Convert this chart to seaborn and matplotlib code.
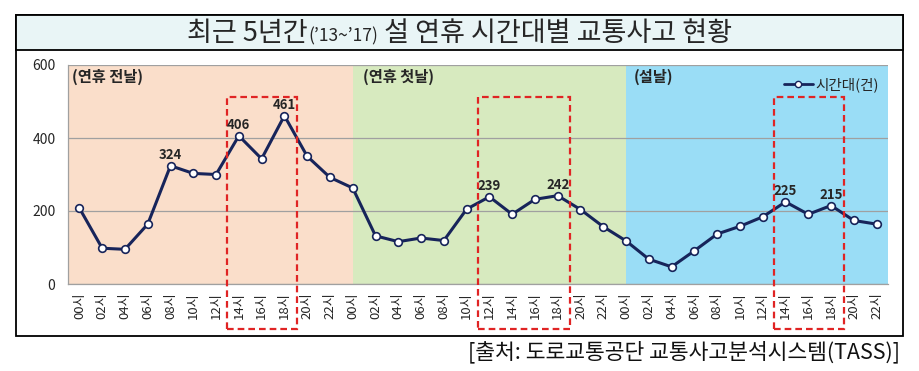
import numpy as np
import pandas as pd
import matplotlib
matplotlib.use("Agg")
import matplotlib.pyplot as plt
import matplotlib.transforms as mtransforms
from matplotlib.patches import Rectangle
from matplotlib.lines import Line2D
import seaborn as sns

# ---------------- data ----------------
hour_labels = ["00시", "02시", "04시", "06시", "08시", "10시",
               "12시", "14시", "16시", "18시", "20시", "22시"]
eve_values = [208, 98, 95, 164, 324, 303, 300, 406, 343, 461, 350, 292]
first_day_values = [263, 132, 116, 126, 119, 205, 239, 191, 232, 242, 204, 157]
seollal_values = [118, 68, 47, 91, 137, 158, 184, 225, 191, 215, 174, 164]
day_names = ["(연휴 전날)", "(연휴 첫날)", "(설날)"]
series_name = "시간대(건)"
labeled_idx = [4, 7, 9, 18, 21, 31, 33]
highlight_ranges = [(7, 9), (18, 21), (31, 33)]
y_ticks = [0, 200, 400, 600]
title_main1 = "최근 5년간"
title_small = "(’13~’17)"
title_main2 = " 설 연휴 시간대별 교통사고 현황"
source_text = "[출처: 도로교통공단 교통사고분석시스템(TASS)]"

values = eve_values + first_day_values + seollal_values
x_labels = hour_labels * 3
df = pd.DataFrame({"idx": np.arange(len(values)), "val": values, "series": series_name})

# ---------------- style ----------------
sns.set_style("white")
plt.rcParams["font.family"] = ["Noto Sans CJK KR", "DejaVu Sans"]

W, H = 920, 371
fig = plt.figure(figsize=(W / 100, H / 100), dpi=100)

def fx(px): return px / W
def fy(py): return 1 - py / H

# outer frame and title box (figure coords), drawn below the axes
fig.patches.append(Rectangle((fx(16), fy(336)), fx(903) - fx(16), fy(15) - fy(336),
                             transform=fig.transFigure, facecolor="white",
                             edgecolor="black", linewidth=1.3, zorder=-3))
fig.patches.append(Rectangle((fx(16), fy(50)), fx(903) - fx(16), fy(15) - fy(50),
                             transform=fig.transFigure, facecolor="#E9F5F6",
                             edgecolor="black", linewidth=1.3, zorder=-2))

ax = fig.add_axes([fx(68), fy(284), fx(888) - fx(68), fy(65) - fy(284)])
ax.set_zorder(2)
ax.set_facecolor("none")

n = len(values)
bg_colors = ["#FADECA", "#D7EABF", "#9ADDF6"]
bounds = [-0.5, 12, 24, n - 0.5]
for i, c in enumerate(bg_colors):
    ax.axvspan(bounds[i], bounds[i + 1], color=c, zorder=0.1, lw=0)

navy = "#17245A"
sns.lineplot(data=df, x="idx", y="val", hue="series", palette=[navy], ax=ax,
             marker="o", markersize=5.5, markerfacecolor="white",
             markeredgecolor=navy, markeredgewidth=1.2, linewidth=2.2, zorder=3,
             legend=False)

ax.set_xlim(-0.5, n - 0.5)
ax.set_ylim(0, 600)
ax.set_yticks(y_ticks)
ax.set_yticklabels([str(v) for v in y_ticks], fontsize=10)
ax.set_xticks(np.arange(n))
ax.set_xticklabels(x_labels, rotation=90, fontsize=9.5)
ax.set_xticks(np.arange(-0.5, n, 1), minor=True)
ax.tick_params(axis="x", which="major", length=0, pad=6)
ax.tick_params(axis="x", which="minor", length=4, color="#A0A0A0", width=0.8)
ax.tick_params(axis="y", length=5, color="#A0A0A0", width=0.8, pad=4)
ax.set_xlabel("")
ax.set_ylabel("")

ax.set_axisbelow(True)
ax.yaxis.grid(True, color="#A0A0A0", linewidth=0.9)
ax.xaxis.grid(False)
for s in ["right", "top"]:
    ax.spines[s].set_visible(False)
for s in ["left", "bottom"]:
    ax.spines[s].set_color("#A0A0A0")
    ax.spines[s].set_linewidth(0.9)

# day labels
trans = mtransforms.blended_transform_factory(ax.transData, ax.transAxes)
day_x = [-0.32, 12.45, 24.35]
for xd, name in zip(day_x, day_names):
    ax.text(xd, 0.945, name, transform=trans, fontsize=11, fontweight="bold",
            ha="left", va="center", zorder=5)

# value annotations
for i in labeled_idx:
    ax.annotate(str(values[i]), (i, values[i]), xytext=(0, 7.5), textcoords="offset points",
                ha="center", va="center", fontsize=9.5, fontweight="bold", zorder=5)

# red dashed highlight boxes
for a, b in highlight_ranges:
    r = Rectangle((a - 0.5, -0.205), (b - a) + 1.05, 0.853 + 0.205, transform=trans,
                  fill=False, edgecolor="#E02424", linestyle=(0, (3, 1.8)),
                  linewidth=1.6, clip_on=False, zorder=4)
    ax.add_patch(r)

# legend
handle = Line2D([], [], color=navy, linewidth=2.0, marker="o", markersize=4.5,
                markerfacecolor="white", markeredgecolor=navy)
leg = ax.legend([handle], [series_name], loc="upper right", frameon=False,
                fontsize=10.5, handlelength=2.0, handletextpad=0.2,
                bbox_to_anchor=(1.0, 0.985), borderaxespad=0.2)

# title with mixed sizes
fig.canvas.draw()
renderer = fig.canvas.get_renderer()
base_y = fy(41)
t1 = fig.text(0, base_y, title_main1, fontsize=19.5, ha="left", va="baseline", zorder=5)
t2 = fig.text(0, base_y, title_small, fontsize=12.5, ha="left", va="baseline", zorder=5)
t3 = fig.text(0, base_y, title_main2, fontsize=19.5, ha="left", va="baseline", zorder=5)
widths = [t.get_window_extent(renderer).width for t in (t1, t2, t3)]
total = sum(widths)
start = (16 + 903) / 2 - total / 2
xpos = start
for t, w in zip((t1, t2, t3), widths):
    t.set_x(xpos / W)
    xpos += w

fig.text(fx(900), fy(352), source_text, fontsize=15.5, ha="right", va="center",
         color="#111111")

fig.savefig("out.png", dpi=100)
